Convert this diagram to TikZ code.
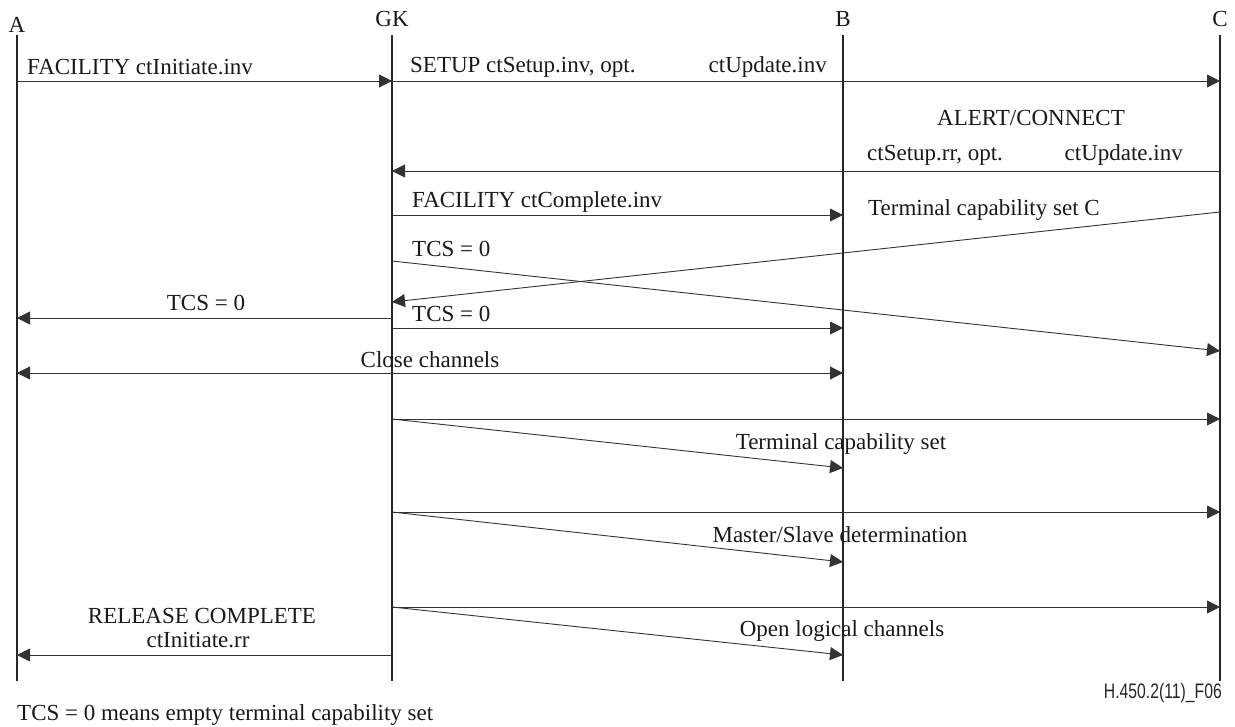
\documentclass[tikz,border=0pt]{standalone}
\usepackage{fontspec}
\setmainfont{Liberation Serif}
\newfontfamily\figsans{Liberation Sans}
\usetikzlibrary{arrows.meta}
\tikzset{
  lifeline/.style={line width=1.1pt, draw=black!85},
  tip/.tip={Triangle[length=13pt,width=13pt]},
  msg/.style={line width=0.9pt, draw=black!80, -tip},
  bimsg/.style={line width=0.9pt, draw=black!80, tip-tip},
  lbl/.style={inner sep=0pt, font=\fontsize{23}{27}\selectfont, text=black!90},
}
\begin{document}
\begin{tikzpicture}[x=1pt,y=-1pt]
\useasboundingbox (0,0) rectangle (1235,726);

% entity names
\node[lbl, anchor=base] (nA) at (17,32) {A};
\node[lbl, anchor=base] (nGK) at (392,26) {GK};
\node[lbl, anchor=base] (nB) at (843,26) {B};
\node[lbl, anchor=base] (nC) at (1220,26) {C};

% lifelines
\foreach \n/\x in {A/17, G/392, B/843, C/1220}{
  \coordinate (\n top) at (\x,35);
  \coordinate (\n bot) at (\x,681);
  \draw[lifeline] (\n top) -- (\n bot);
}

% message end points
\coordinate (a1) at (17,81);   \coordinate (g1) at (392,81);  \coordinate (c1) at (1220,81);
\coordinate (c2) at (1220,171); \coordinate (g2) at (392,171);
\coordinate (g3) at (392,215);  \coordinate (b3) at (843,215);
\coordinate (c4) at (1220,212); \coordinate (g4) at (392,302);
\coordinate (g5) at (392,261);  \coordinate (c5) at (1220,351);
\coordinate (g6) at (392,318);  \coordinate (a6) at (17,318);
\coordinate (g7) at (392,328);  \coordinate (b7) at (843,328);
\coordinate (a8) at (17,373);   \coordinate (b8) at (843,373);
\coordinate (g9) at (392,419);  \coordinate (c9) at (1220,419);  \coordinate (b9) at (843,468);
\coordinate (g10) at (392,512); \coordinate (c10) at (1220,512); \coordinate (b10) at (843,562);
\coordinate (g11) at (392,607); \coordinate (c11) at (1220,607); \coordinate (b11) at (843,655);
\coordinate (g12) at (392,655); \coordinate (a12) at (17,655);

% messages
\draw[msg] (a1) -- (g1);
\draw[msg] (g1) -- (c1);
\draw[msg] (c2) -- (g2);
\draw[msg] (g3) -- (b3);
\draw[msg] (c4) -- (g4);
\draw[msg] (g5) -- (c5);
\draw[msg] (g6) -- (a6);
\draw[msg] (g7) -- (b7);
\draw[bimsg] (a8) -- (b8);
\draw[msg] (g9) -- (c9);
\draw[msg] (g9) -- (b9);
\draw[msg] (g10) -- (c10);
\draw[msg] (g10) -- (b10);
\draw[msg] (g11) -- (c11);
\draw[msg] (g11) -- (b11);
\draw[msg] (g12) -- (a12);

% message labels
\node[lbl, anchor=base west] (t1) at (27,74) {FACILITY ctInitiate.inv};
\node[lbl, anchor=base west] (t2) at (410,72) {SETUP ctSetup.inv, opt.};
\node[lbl, anchor=base east] (t3) at (827,72) {ctUpdate.inv};
\node[lbl, anchor=base] (t4) at (1031,125) {ALERT/CONNECT};
\node[lbl, anchor=base west] (t5) at (867,160) {ctSetup.rr, opt.};
\node[lbl, anchor=base east] (t6) at (1183,160) {ctUpdate.inv};
\node[lbl, anchor=base west] (t7) at (412,207) {FACILITY ctComplete.inv};
\node[lbl, anchor=base west] (t8) at (868,215) {Terminal capability set C};
\node[lbl, anchor=base west] (t9) at (412,256) {TCS = 0};
\node[lbl, anchor=base] (t10) at (206,310) {TCS = 0};
\node[lbl, anchor=base west] (t11) at (412,321) {TCS = 0};
\node[lbl, anchor=base] (t12) at (430,367) {Close channels};
\node[lbl, anchor=base] (t13) at (841,449) {Terminal capability set};
\node[lbl, anchor=base] (t14) at (840,542) {Master/Slave determination};
\node[lbl, anchor=base] (t15) at (842,636) {Open logical channels};
\node[lbl, anchor=base] (t16) at (202,623) {RELEASE COMPLETE};
\node[lbl, anchor=base] (t17) at (198,647) {ctInitiate.rr};

% notes
\node[lbl, anchor=base west] (note) at (17,720) {TCS = 0 means empty terminal capability set};
\node[inner sep=0pt, anchor=base east, text=black!85] (fig) at (1222,698)
  {\scalebox{0.75}[1]{\figsans\fontsize{21}{24}\selectfont H.450.2(11)\_F06}};
\end{tikzpicture}
\end{document}
